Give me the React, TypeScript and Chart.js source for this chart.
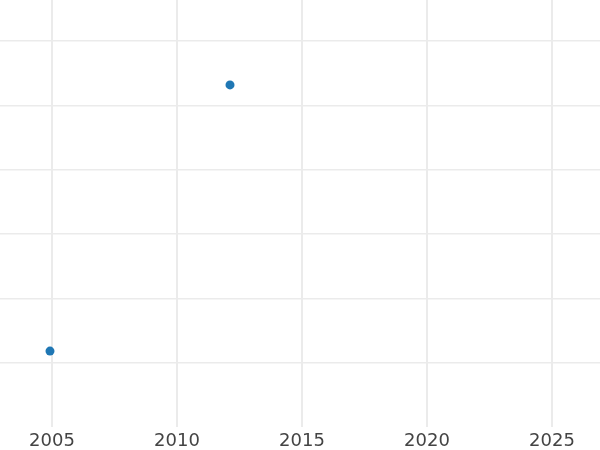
import React, { useEffect, useRef } from "react";
import { Chart, registerables } from "chart.js";

Chart.register(...registerables);

const xValues = [2004.92, 2012.12];
const yValues = [0.18, 4.32];
const xTicks = [2005, 2010, 2015, 2020, 2025];
const yTicks = [0, 1, 2, 3, 4, 5];

export default function App() {
  const ref = useRef<HTMLCanvasElement | null>(null);
  useEffect(() => {
    if (!ref.current) return;
    const chart = new Chart(ref.current, {
      type: "scatter",
      data: {
        datasets: [
          {
            data: xValues.map((x, i) => ({ x, y: yValues[i] })),
            backgroundColor: "#1f77b4",
            borderColor: "#1f77b4",
            pointRadius: 4.5,
            pointBorderWidth: 0,
          },
        ],
      },
      options: {
        animation: false,
        responsive: false,
        maintainAspectRatio: false,
        layout: { padding: 0, autoPadding: false },
        plugins: { legend: { display: false }, tooltip: { enabled: false } },
        scales: {
          x: {
            type: "linear",
            min: 2002.92,
            max: 2026.92,
            afterBuildTicks: (scale: any) => {
              scale.ticks = xTicks.map((v) => ({ value: v }));
            },
            afterFit: (scale: any) => {
              scale.height = 23;
            },
            border: { display: false },
            grid: { color: "#ebebeb", lineWidth: 2, drawTicks: false },
            ticks: {
              color: "#444444",
              padding: 5,
              maxRotation: 0,
              font: { family: "DejaVu Sans", size: 18, lineHeight: 1 },
              callback: (v: any) => String(v),
            },
          },
          y: {
            type: "linear",
            min: -1,
            max: 5.64,
            afterBuildTicks: (scale: any) => {
              scale.ticks = yTicks.map((v) => ({ value: v }));
            },
            afterFit: (scale: any) => {
              scale.width = 0;
            },
            border: { display: false },
            grid: { color: "#ebebeb", lineWidth: 1.5, drawTicks: false },
            ticks: { display: false },
          },
        },
      },
    });
    return () => chart.destroy();
  }, []);
  return (
    <div style={{ position: "fixed", left: 0, top: 0, width: 600, height: 450 }}>
      <canvas ref={ref} width={600} height={450} style={{ display: "block" }} />
    </div>
  );
}
